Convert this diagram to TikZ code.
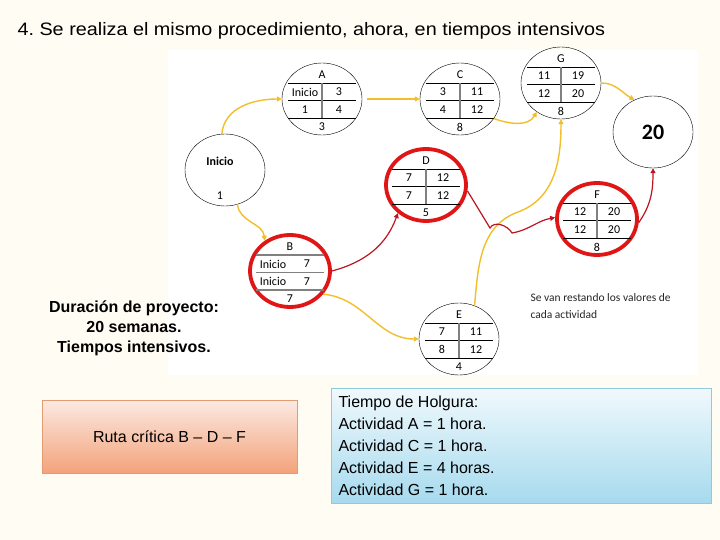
\documentclass[tikz,border=0pt]{standalone}
\usepackage{fontspec}
\setmainfont{Liberation Sans}
\newfontfamily\calib{Carlito}
\newfontfamily\titlefont[FakeStretch=1.1]{Liberation Sans}
\usetikzlibrary{shapes.geometric,arrows.meta}
\frenchspacing
\definecolor{slidebg}{HTML}{FFFCF3}
\definecolor{critred}{HTML}{E01515}
\definecolor{linkred}{HTML}{BC1420}
\definecolor{linkyel}{HTML}{F2BF2A}
\definecolor{rutatop}{HTML}{FBEAE2}
\definecolor{rutabot}{HTML}{F3A27A}
\definecolor{rutaline}{HTML}{E39B74}
\definecolor{holgtop}{HTML}{F0F9FC}
\definecolor{holgbot}{HTML}{A6DAEE}
\definecolor{holgline}{HTML}{90CADD}
\tikzset{
  outline/.style={draw,ellipse,minimum width=80pt,minimum height=72pt,inner sep=0pt},
  rowline/.style={draw=black,line width=0.8pt},
  divider/.style={draw=gray,line width=1.2pt},
  plain/.style={},
  crit/.style={outline/.append style={draw=critred,line width=3.8pt}},
  critnodiv/.style={crit,divider/.style={draw=none},rowline/.style={draw=gray,line width=1.2pt}},
  yellink/.style={linkyel,line width=1.4pt,-{Triangle[length=5pt,width=5pt]}},
  redlink/.style={linkred,line width=1.2pt,-{Triangle[length=5pt,width=5pt]}},
  cell/.style={font=\calib\fontsize{12}{12}\selectfont,inner sep=0pt}
}
% activity node: style, name, centre, label, cells, duration
\newcommand\ActNode[9]{
  \begin{scope}[shift={#3},#1]
  \node[outline] (#2) at (0,0) {};
  \node[cell] at (0,-24) {#4};
  \foreach \dy in {-16,1.5,19}
  {
    \draw[rowline] (-34,\dy) -- (34,\dy);
  }
  \draw[divider] (0,-16) -- (0,19);
  \node[cell] at (-17,-7) {#5};
  \node[cell] at (17,-7) {#6};
  \node[cell] at (-17,10.5) {#7};
  \node[cell] at (17,10.5) {#8};
  \node[cell] at (0,28) {#9};
  \end{scope}
}

\begin{document}
\begin{tikzpicture}[x=1pt, y=-1pt]
\fill[slidebg] (0,0) rectangle (720,540);
\useasboundingbox (0,0) rectangle (720,540);
\fill[white] (168,50) rectangle (698,375);
\node[anchor=west,font=\titlefont\fontsize{18}{18}\selectfont] (title) at (14,31)
  {4. Se realiza el mismo procedimiento, ahora, en tiempos intensivos};

\node[outline] (ini) at (225,170) {};
\node[cell,font=\calib\bfseries\fontsize{12}{12}\selectfont] at (220,161) {Inicio};
\node[cell] at (220,196) {1};
\ActNode{plain}{A}{(322,99)}{A}{Inicio}{3}{1}{4}{3}
\ActNode{plain}{C}{(460,99)}{C}{3}{11}{4}{12}{8}
\ActNode{plain}{G}{(561,83)}{G}{11}{19}{12}{20}{8}
\ActNode{crit}{D}{(426,185)}{D}{7}{12}{7}{12}{5}
\ActNode{crit}{F}{(597,219)}{F}{12}{20}{12}{20}{8}
\ActNode{critnodiv}{B}{(290,271)}{B}{Inicio}{7}{Inicio}{7}{7}
\ActNode{plain}{E}{(459,339)}{E}{7}{11}{8}{12}{4}
\node[outline,font=\calib\bfseries\fontsize{22}{22}\selectfont] (fin) at (653,132) {20};

\coordinate (dfknee) at (490,228);
\coordinate (dfdip) at (512,233);
\coordinate (egbend) at (518,212);

\draw[yellink] (ini.95) to[out=85,in=180] (A.west);
\draw[yellink] (ini.-70) to[out=-85,in=95] (B.130);
\draw[yellink,shorten <=5pt] (A.east) -- (C.west);
\draw[yellink] (C.-30) to[out=-20,in=-120] (G.-130);
\draw[yellink] (G.0) to[out=0,in=150] (fin.120);
\draw[yellink] (B.-35) to[out=-5,in=180] (E.180);
\draw[yellink] (E.65) to[out=85,in=-160] (egbend) to[out=20,in=-90] (G.-90);
\draw[redlink] (B.0) to[out=15,in=-110] (D.-135);
\draw[redlink] (D.-8) -- (dfknee) to[out=60,in=120] (dfdip) to[out=10,in=190] (F.178);
\draw[redlink] (F.-5) to[out=55,in=-90] (fin.-90);

\node[anchor=north west,align=left,text=black!85,
  font=\calib\fontsize{11.5}{17}\selectfont] (nota) at (527,290)
  {Se van restando los valores de\\cada actividad};

\node[align=center,font=\bfseries\fontsize{16}{20}\selectfont] (dur) at (134,328)
  {Duración de proyecto:\\20 semanas.\\Tiempos intensivos.};
\node[draw=rutaline,top color=rutatop,bottom color=rutabot,minimum width=255pt,
  minimum height=73pt,font=\fontsize{16}{16}\selectfont] (ruta) at (169.5,436.5)
  {Ruta crítica B -- D -- F};
\node[draw=holgline,top color=holgtop,bottom color=holgbot,minimum width=380pt,
  minimum height=115pt,anchor=north west] (holg) at (331,388) {};
\node[anchor=west,align=left,font=\fontsize{16}{22}\selectfont] (holgtxt) at (335,446)
  {Tiempo de Holgura:\\Actividad A = 1 hora.\\Actividad C = 1 hora.\\Actividad E = 4 horas.\\Actividad G = 1 hora.};
\end{tikzpicture}
\end{document}
